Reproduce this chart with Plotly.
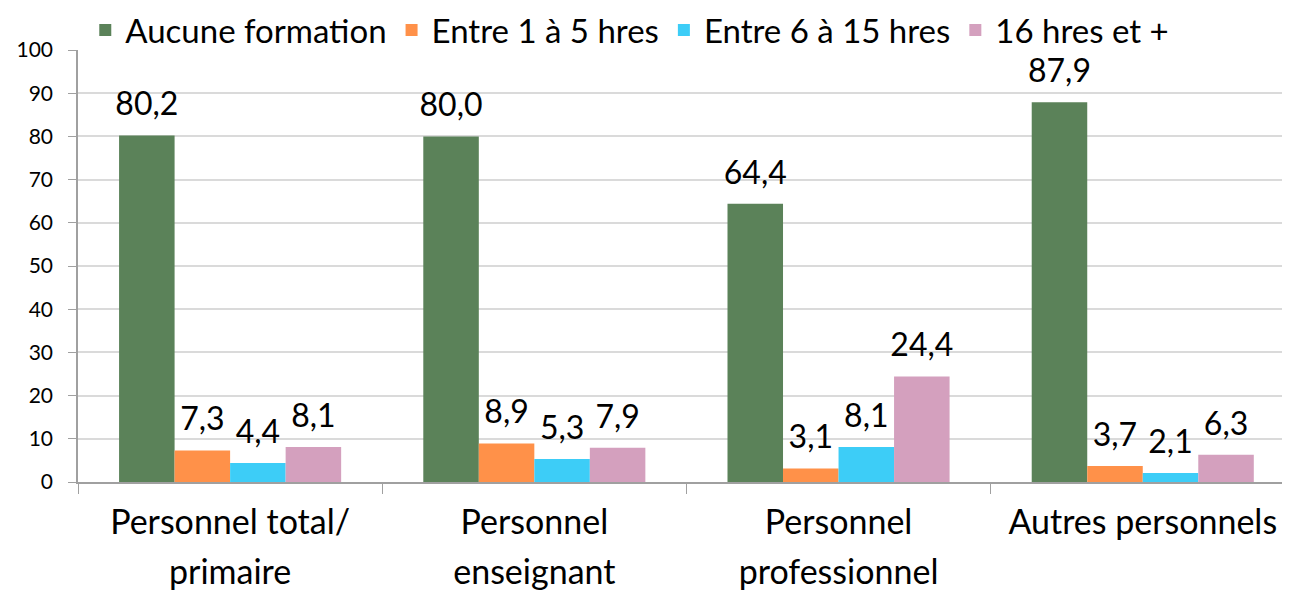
import plotly.graph_objects as go

categories = ["Personnel total/<br>primaire", "Personnel<br>enseignant",
              "Personnel<br>professionnel", "Autres personnels"]
series_names = ["Aucune formation", "Entre 1 à 5 hres", "Entre 6 à 15 hres", "16 hres et +"]
aucune = [80.2, 80.0, 64.4, 87.9]
entre_1_5 = [7.3, 8.9, 3.1, 3.7]
entre_6_15 = [4.4, 5.3, 8.1, 2.1]
seize_plus = [8.1, 7.9, 24.4, 6.3]
y_ticks = [0, 10, 20, 30, 40, 50, 60, 70, 80, 90, 100]

colors = ["#5B8259", "#FF9149", "#3DCDF7", "#D4A0BE"]
FONT = "Lato, Open Sans, sans-serif"
BARGAP = 0.27

cat_text = [f'<span style="font-size:34px">{c}</span>' for c in categories]

fig = go.Figure()
all_series = [aucune, entre_1_5, entre_6_15, seize_plus]
for name, vals, col in zip(series_names, all_series, colors):
    fig.add_trace(go.Bar(
        x=categories, y=vals, name=name,
        marker=dict(color=col, line=dict(width=0)),
        hoverinfo="x+y+name",
    ))
# value labels, placed via grouped scatter so they sit above each bar
for name, vals in zip(series_names, all_series):
    fig.add_trace(go.Scatter(
        x=categories, y=vals, mode="markers+text", showlegend=False,
        marker=dict(size=18, color="rgba(0,0,0,0)"),
        text=[f"{v:.1f}".replace(".", ",") for v in vals],
        textposition="top center", cliponaxis=False, hoverinfo="skip",
        textfont=dict(size=32, color="#000000", family=FONT),
    ))

fig.update_layout(
    width=1290, height=591,
    margin=dict(l=70, r=8, t=42, b=117, autoexpand=False),
    paper_bgcolor="white", plot_bgcolor="white",
    barmode="group", bargap=BARGAP, bargroupgap=0,
    scattermode="group", scattergap=BARGAP,
    font=dict(family=FONT, color="#000000"),
    legend=dict(orientation="h", x=0.006, xanchor="left", y=1.111, yanchor="top",
                font=dict(size=33, family=FONT), itemwidth=30,
                bgcolor="rgba(0,0,0,0)", traceorder="normal"),
    xaxis=dict(
        type="category", tickmode="array", tickvals=categories, ticktext=cat_text,
        range=[-0.5, 3.484], tickson="boundaries", ticks="outside", ticklen=10,
        tickcolor="#A0A0A0", showline=True, linecolor="#A0A0A0", linewidth=1.5,
        tickfont=dict(size=39, family=FONT, color="#000000"), ticklabelstandoff=3,
        showgrid=False, zeroline=False,
    ),
    yaxis=dict(
        range=[0, 100], tickmode="array", tickvals=y_ticks,
        ticks="outside", ticklen=8, tickcolor="#A0A0A0",
        showline=True, linecolor="#A0A0A0", linewidth=1.5,
        showgrid=True, gridcolor="#DADADA", gridwidth=1.5,
        tickfont=dict(size=21, family=FONT, color="#000000"), zeroline=False,
        ticklabelstandoff=11,
    ),
)

fig.write_html("out.html")
